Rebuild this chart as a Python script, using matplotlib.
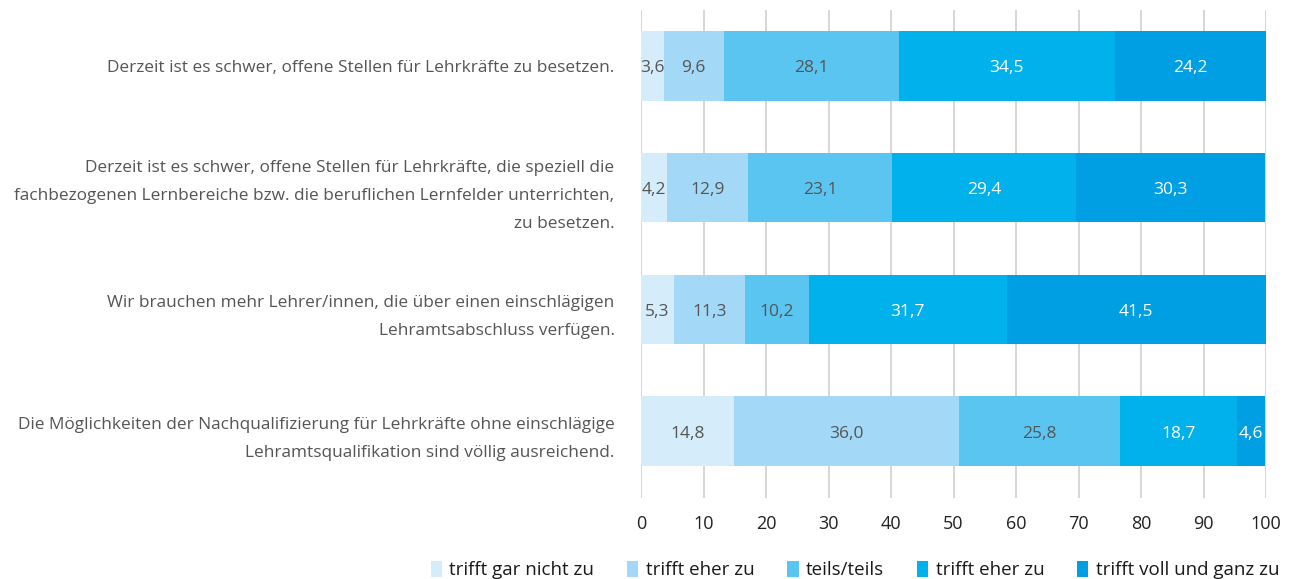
import matplotlib.pyplot as plt
import numpy as np

categories = [
    "Derzeit ist es schwer, offene Stellen für Lehrkräfte zu besetzen.",
    "Derzeit ist es schwer, offene Stellen für Lehrkräfte, die speziell die\nfachbezogenen Lernbereiche bzw. die beruflichen Lernfelder unterrichten,\nzu besetzen.",
    "Wir brauchen mehr Lehrer/innen, die über einen einschlägigen\nLehramtsabschluss verfügen.",
    "Die Möglichkeiten der Nachqualifizierung für Lehrkräfte ohne einschlägige\nLehramtsqualifikation sind völlig ausreichend.",
]
series_names = ["trifft gar nicht zu", "trifft eher zu", "teils/teils", "trifft eher zu", "trifft voll und ganz zu"]
values = [
    [3.6, 4.2, 5.3, 14.8],
    [9.6, 12.9, 11.3, 36.0],
    [28.1, 23.1, 10.2, 25.8],
    [34.5, 29.4, 31.7, 18.7],
    [24.2, 30.3, 41.5, 4.6],
]
colors = ["#d5ecfb", "#a3d9f7", "#5bc5f2", "#00b1eb", "#009fe3"]
text_colors = ["#555555", "#555555", "#555555", "#ffffff", "#ffffff"]
xticks = [0, 10, 20, 30, 40, 50, 60, 70, 80, 90, 100]

plt.rcParams['font.family'] = ['Open Sans', 'DejaVu Sans']

fig = plt.figure(figsize=(12.93, 5.79), dpi=100)
ax = fig.add_axes([641/1293, 1 - 498/579, (1266-641)/1293, (498-10)/579])

y = np.arange(len(categories))
left = np.zeros(len(categories))
handles = []
for i, (name, vals) in enumerate(zip(series_names, values)):
    vals = np.array(vals)
    bars = ax.barh(y, vals, left=left, height=0.57, color=colors[i], label=name, zorder=2)
    handles.append(bars)
    for yi, (l, v) in enumerate(zip(left, vals)):
        ax.text(l + v / 2, yi + 0.02, f"{v:.1f}".replace(".", ","), ha="center", va="center",
                fontsize=12.5, color=text_colors[i], zorder=3)
    left += vals

ax.set_xlim(0, 100)
ax.set_ylim(3.55, -0.46)
ax.set_xticks(xticks)
ax.set_xticklabels([str(t) for t in xticks], fontsize=13, color="#222222")
ax.set_yticks(y)
ax.set_yticklabels(categories, fontsize=12.4, color="#555555", linespacing=2.0)
for lbl in ax.get_yticklabels():
    lbl.set_y(lbl.get_position()[1])
ax.tick_params(axis="y", length=0, pad=19)
ax.tick_params(axis="x", length=0, pad=12)
ax.grid(axis="x", color="#d0d0d0", linewidth=1.2, zorder=0)
for s in ax.spines.values():
    s.set_visible(False)

fig.legend(handles=handles, labels=series_names, loc="lower center", ncol=5,
           bbox_to_anchor=(855/1293, -0.03), frameon=False, fontsize=13.5,
           handlelength=0.6, handleheight=0.9, handletextpad=0.4, columnspacing=1.75,
           labelcolor="#1a1a1a")

fig.savefig("out.png", dpi=100)
